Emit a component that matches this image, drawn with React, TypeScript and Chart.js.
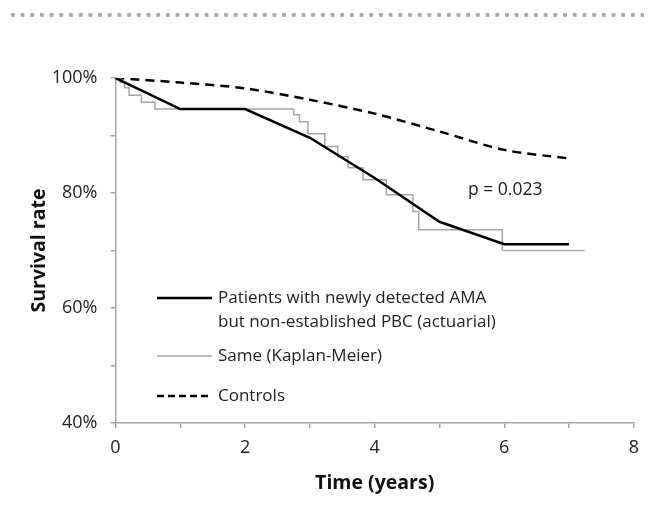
import React, { useEffect, useRef } from 'react';
import { Chart, registerables } from 'chart.js';

Chart.register(...registerables);

// ---- data ----
const actuarialYears = [0, 1, 2, 3, 4, 5, 6, 7];
const actuarialSurvival = [100, 94.6, 94.6, 89.6, 82.6, 75.0, 71.1, 71.1];

const controlYears = [0, 1, 2, 3, 4, 5, 6, 7];
const controlSurvival = [100, 99.2, 98.2, 96.2, 93.8, 90.7, 87.5, 86.0];

const kmTimes = [0, 0.07, 0.14, 0.21, 0.4, 0.61, 2.75, 2.84, 2.97, 3.23, 3.43, 3.59, 3.82, 4.18, 4.59, 4.68, 5.97, 7.24];
const kmSurvival = [100, 99.2, 98.3, 97.0, 95.8, 94.6, 93.6, 92.4, 90.3, 88.1, 86.3, 84.4, 82.3, 79.7, 76.8, 73.6, 70.0, 70.0];

const xLabelledTicks = [0, 2, 4, 6, 8];
const yLabelledTicks = [40, 60, 80, 100];

const seriesNames = [
  'Patients with newly detected AMA\nbut non-established PBC (actuarial)',
  'Same (Kaplan-Meier)',
  'Controls',
];
const xTitle = 'Time (years)';
const yTitle = 'Survival rate';
const pValueText = 'p = 0.023';
const pValueAt = { x: 5.44, y: 80.6 };

const FONT = "'Open Sans', 'DejaVu Sans', sans-serif";

const overlayPlugin = {
  id: 'overlay',
  afterDraw(chart: any) {
    const { ctx, chartArea, scales } = chart;
    ctx.save();
    // p-value annotation
    ctx.font = `17.5px ${FONT}`;
    ctx.fillStyle = '#222';
    ctx.textAlign = 'left';
    ctx.textBaseline = 'middle';
    ctx.fillText(pValueText, scales.x.getPixelForValue(pValueAt.x), scales.y.getPixelForValue(pValueAt.y));

    // legend
    const left = chartArea.left;
    const top = chartArea.top;
    const rowY = [220, 278, 318];
    const lineGap = 24;
    chart.data.datasets.forEach((ds: any, i: number) => {
      const y = top + rowY[i];
      ctx.beginPath();
      ctx.strokeStyle = ds.borderColor;
      ctx.lineWidth = ds.borderWidth;
      ctx.setLineDash(ds.borderDash ? [7, 4] : []);
      ctx.moveTo(left + 41.5, y);
      ctx.lineTo(left + 96.5, y);
      ctx.stroke();
      ctx.setLineDash([]);
      ctx.fillStyle = '#222';
      ctx.font = `17px ${FONT}`;
      const lines = String(ds.label).split('\n');
      lines.forEach((t: string, j: number) => {
        ctx.fillText(t, left + 102.5, y + j * lineGap);
      });
    });
    ctx.restore();
  },
};

export default function App() {
  const ref = useRef<HTMLCanvasElement | null>(null);

  useEffect(() => {
    if (!ref.current) return;
    const axisColor = '#a6a6a6';
    const chart = new Chart(ref.current, {
      type: 'line',
      data: {
        datasets: [
          {
            label: seriesNames[0],
            data: actuarialYears.map((x, i) => ({ x, y: actuarialSurvival[i] })),
            borderColor: '#000000',
            borderWidth: 2.5,
            pointRadius: 0,
            tension: 0,
            fill: false,
          },
          {
            label: seriesNames[1],
            data: kmTimes.map((x, i) => ({ x, y: kmSurvival[i] })),
            borderColor: '#a6a6a6',
            borderWidth: 1.5,
            pointRadius: 0,
            stepped: 'before',
            fill: false,
          },
          {
            label: seriesNames[2],
            data: controlYears.map((x, i) => ({ x, y: controlSurvival[i] })),
            borderColor: '#000000',
            borderWidth: 2.5,
            borderDash: [9, 6],
            pointRadius: 0,
            tension: 0.3,
            fill: false,
          },
        ],
      },
      options: {
        responsive: false,
        animation: false,
        layout: { padding: { left: 0, top: 78, right: 11, bottom: 0 } },
        plugins: { legend: { display: false }, tooltip: { enabled: false } },
        scales: {
          x: {
            type: 'linear',
            min: 0,
            max: 8,
            ticks: {
              stepSize: 1,
              autoSkip: false,
              maxRotation: 0,
              padding: 9,
              color: '#222',
              font: { family: FONT, size: 18 },
              callback: (v: any) => (xLabelledTicks.includes(Number(v)) ? String(v) : ''),
            },
            grid: { display: true, drawOnChartArea: false, drawTicks: true, tickLength: 5, color: axisColor, lineWidth: 1.5 },
            border: { display: true, color: axisColor, width: 1.5 },
            title: {
              display: true,
              text: xTitle,
              color: '#111',
              font: { family: FONT, size: 19.5, weight: 'bold' },
              padding: { top: 0, bottom: 13 },
            },
            afterFit: (s: any) => { s.height = 85; },
          },
          y: {
            type: 'linear',
            min: 40,
            max: 100,
            ticks: {
              stepSize: 10,
              autoSkip: false,
              padding: 13,
              color: '#222',
              font: { family: FONT, size: 18 },
              callback: (v: any) => (yLabelledTicks.includes(Number(v)) ? `${v}%` : ''),
            },
            grid: { display: true, drawOnChartArea: false, drawTicks: true, tickLength: 5, color: axisColor, lineWidth: 1.5 },
            border: { display: true, color: axisColor, width: 1.5 },
            title: {
              display: true,
              text: yTitle,
              color: '#111',
              font: { family: FONT, size: 19.5, weight: 'bold' },
              padding: { top: 28, bottom: 0 },
            },
            afterFit: (s: any) => { s.width = 115.5; },
          },
        },
      } as any,
      plugins: [overlayPlugin],
    });
    return () => chart.destroy();
  }, []);

  return (
    <div style={{ position: 'absolute', left: 0, top: 0, width: 648, height: 508, background: '#fff' }}>
      <div
        style={{
          position: 'absolute',
          left: 8,
          top: 12,
          width: 636,
          height: 6,
          backgroundImage: 'radial-gradient(circle, #a8a8a8 1.9px, rgba(255,255,255,0) 2.4px)',
          backgroundSize: '9.7px 6px',
          backgroundRepeat: 'repeat-x',
        }}
      />
      <canvas ref={ref} width={648} height={508} style={{ display: 'block', width: 648, height: 508 }} />
    </div>
  );
}
